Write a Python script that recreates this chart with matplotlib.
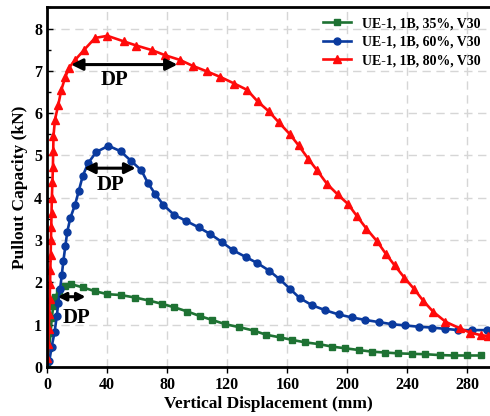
import matplotlib
matplotlib.use('Agg')
import matplotlib.pyplot as plt
from matplotlib.ticker import MultipleLocator

plt.rcParams['font.family'] = 'Liberation Serif'
plt.rcParams['font.weight'] = 'bold'

# UE-1, 1B, 35%, V30
green_x = [0.2, 1.3, 2.4, 3.1, 4.2, 5.3, 8.2, 12, 15.8, 23.8, 32, 40.2, 49, 58.7, 67.8, 76.7,
           84.7, 93.5, 102, 110, 118.7, 128, 137.5, 146, 155, 163, 172, 181, 189.8, 198.7,
           207.5, 216.5, 225.3, 234, 243, 252, 261.5, 271, 279.8, 288.7]
green_y = [0.1, 0.45, 0.8, 1.15, 1.44, 1.66, 1.8, 1.91, 1.96, 1.88, 1.79, 1.72, 1.7, 1.64, 1.57, 1.49,
           1.41, 1.31, 1.2, 1.11, 1.01, 0.94, 0.86, 0.76, 0.7, 0.64, 0.58, 0.54, 0.48, 0.44,
           0.4, 0.36, 0.34, 0.32, 0.31, 0.3, 0.28, 0.27, 0.27, 0.27]

# UE-1, 1B, 60%, V30
blue_x = [1.5, 3.1, 5.0, 6.5, 7.5, 8.7, 9.8, 10.9, 12.2, 13.5, 15.5, 18.7, 21.2, 23.8, 27.4, 32.7,
          40.9, 49, 56, 62.8, 67, 72, 77.5, 84.5, 92.7, 101, 108.8, 116.2, 123.8, 132.3, 139.8,
          147.8, 155, 161.7, 168.2, 176.4, 185.3, 194.2, 203, 212, 221, 229.8, 238.7, 247.5,
          256.5, 265.3, 274, 283, 292.7]
blue_y = [0.14, 0.48, 0.82, 1.2, 1.52, 1.84, 2.17, 2.51, 2.86, 3.2, 3.52, 3.84, 4.17, 4.52, 4.82, 5.08,
          5.23, 5.1, 4.87, 4.65, 4.36, 4.09, 3.83, 3.6, 3.45, 3.3, 3.14, 2.96, 2.76, 2.6, 2.46,
          2.28, 2.07, 1.85, 1.63, 1.46, 1.34, 1.24, 1.17, 1.11, 1.06, 1.01, 0.98, 0.95,
          0.93, 0.9, 0.87, 0.87, 0.87]

# UE-1, 1B, 80%, V30
red_x = [0.3, 0.8, 1.2, 1.5, 1.8, 2.0, 2.2, 2.4, 2.6, 2.8, 3.0, 3.2, 3.6, 3.9, 4.1, 4.3, 5.3, 7.5,
         9.5, 12.2, 14.8, 18.5, 24.5, 32, 40.2, 51, 59.5, 70, 78.7, 88.5, 97, 106.4, 115.2, 124.8,
         133.3, 140.2, 147.5, 154.2, 161.5, 167.5, 174, 179.8, 186.4, 193.5, 200.5, 206.5, 212.7,
         219.8, 225.5, 231.5, 238, 244.5, 250.4, 257, 265.3, 275, 282, 289, 294]
red_y = [0.2, 0.55, 0.9, 1.25, 1.6, 1.95, 2.3, 2.65, 3.0, 3.3, 3.65, 4.0, 4.37, 4.73, 5.1, 5.47, 5.85, 6.2,
         6.55, 6.86, 7.08, 7.25, 7.49, 7.78, 7.83, 7.7, 7.6, 7.49, 7.37, 7.26, 7.12, 6.99, 6.86, 6.7,
         6.55, 6.28, 6.05, 5.79, 5.51, 5.24, 4.92, 4.65, 4.33, 4.08, 3.85, 3.56, 3.27,
         2.97, 2.68, 2.4, 2.11, 1.84, 1.57, 1.31, 1.07, 0.91, 0.81, 0.75, 0.73]

labels = ['UE-1, 1B, 35%, V30', 'UE-1, 1B, 60%, V30', 'UE-1, 1B, 80%, V30']

# DP arrows: (x start, x end, y), label position, head size
dp_arrows = [(14.2, 88.7, 7.15), (22.7, 60.9, 4.7), (5.3, 27.5, 1.66)]
dp_text = [(45, 6.78), (42, 4.3), (19.5, 1.15)]
dp_heads = [17, 16, 12]

fig = plt.figure(figsize=(4.9, 4.16), dpi=100)
ax = fig.add_axes([0.096, 0.118, 0.904, 0.864])

ax.plot(green_x, green_y, color='#1e7233', marker='s', markersize=5, linewidth=1.9, label=labels[0])
ax.plot(blue_x, blue_y, color='#0a3a9e', marker='o', markersize=5, linewidth=1.9, label=labels[1])
ax.plot(red_x, red_y, color='#ff0a0a', marker='^', markersize=6, linewidth=1.9, label=labels[2])

for (x0, x1, y), (tx, ty), hs in zip(dp_arrows, dp_text, dp_heads):
    ax.annotate('', xy=(x1, y), xytext=(x0, y),
                arrowprops=dict(arrowstyle='<|-|>', color='black', lw=2.2, mutation_scale=hs))
    ax.text(tx, ty, 'DP', fontsize=15, fontweight='bold', ha='center', va='center')

ax.set_xlim(0, 295)
ax.set_ylim(0, 8.5)
ax.xaxis.set_major_locator(MultipleLocator(40))
ax.yaxis.set_major_locator(MultipleLocator(1))
ax.yaxis.set_minor_locator(MultipleLocator(0.5))
ax.tick_params(axis='x', direction='out', length=4, width=1, labelsize=11.5)
ax.tick_params(axis='y', which='major', direction='in', length=4, width=1, labelsize=11.5)
ax.tick_params(axis='y', which='minor', direction='in', length=3, width=1)
ax.grid(True, linestyle=(0, (6, 4)), color='#d6d6d6', linewidth=1)
ax.set_axisbelow(True)

for side in ['left', 'bottom', 'top']:
    ax.spines[side].set_linewidth(2)
ax.spines['right'].set_visible(False)

ax.set_xlabel('Vertical Displacement (mm)', fontsize=12.5, fontweight='bold', labelpad=2)
ax.set_ylabel('Pullout Capacity (kN)', fontsize=12.5, fontweight='bold', labelpad=4)

ax.legend(loc='upper right', frameon=False, fontsize=10, handlelength=2.0,
          borderaxespad=0.3, labelspacing=0.4)

fig.savefig('out.png', dpi=100)
